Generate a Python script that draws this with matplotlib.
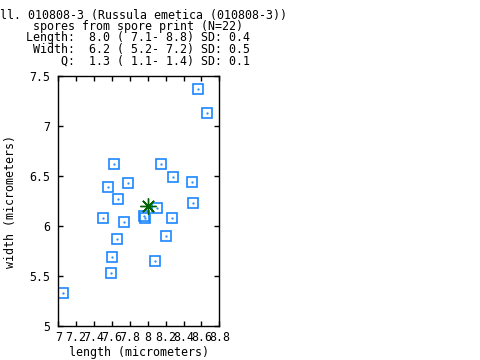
import numpy as np
import matplotlib
matplotlib.use('Agg')
import matplotlib.pyplot as plt

length = [8.565, 8.666, 7.626, 8.152, 8.286, 8.498, 7.783, 7.559, 7.671, 8.509, 8.107,
          7.961, 7.973, 7.503, 8.275, 7.738, 8.207, 7.660, 7.604, 8.085, 7.593, 7.056]
width = [7.37, 7.13, 6.62, 6.62, 6.49, 6.44, 6.43, 6.39, 6.27, 6.23, 6.18,
         6.10, 6.08, 6.08, 6.08, 6.04, 5.90, 5.87, 5.69, 5.65, 5.53, 5.33]
mean_length = [8.0]
mean_width = [6.2]

header = [
    'Coll. 010808-3 (Russula emetica (010808-3))',
    'spores from spore print (N=22)',
    'Length:  8.0 ( 7.1- 8.8) SD: 0.4',
    'Width:  6.2 ( 5.2- 7.2) SD: 0.5',
    'Q:  1.3 ( 1.1- 1.4) SD: 0.1',
]
header_x = [-14, 33, 26, 33, 61]

x_ticks = [7, 7.2, 7.4, 7.6, 7.8, 8, 8.2, 8.4, 8.6, 8.8]
y_ticks = [5, 5.5, 6, 6.5, 7, 7.5]

plt.rcParams['font.family'] = 'DejaVu Sans Mono'
plt.rcParams['font.size'] = 8.4

W, H = 480, 360
fig = plt.figure(figsize=(W / 100, H / 100), dpi=100)
ax = fig.add_axes([58.3 / W, 1 - 326.3 / H, 161 / W, 250.3 / H])

blue = '#1a86ff'
ax.plot(length, width, linestyle='none', marker='s', markersize=7.8,
        markerfacecolor='none', markeredgecolor=blue, markeredgewidth=1.2)
ax.plot(length, width, linestyle='none', marker='.', markersize=1.2, color=blue)

green = '#006400'
ax.plot(mean_length, mean_width, linestyle='none', marker=(8, 2, 0), markersize=11.5,
        markeredgecolor=green, markeredgewidth=1.0)
ax.plot(mean_length, mean_width, linestyle='none', marker='o', markersize=2.8, color=green)

ax.set_xlim(7, 8.8)
ax.set_ylim(5, 7.5)
ax.set_xticks(x_ticks)
ax.set_xticklabels(['%g' % t for t in x_ticks])
ax.set_yticks(y_ticks)
ax.set_yticklabels(['%g' % t for t in y_ticks])
ax.tick_params(direction='in', length=3.8, width=1, top=True, right=True, pad=5.5)
ax.tick_params(axis='x', pad=3.5)
for s in ax.spines.values():
    s.set_linewidth(1)

ax.set_xlabel('length (micrometers)', labelpad=1.5)
ax.set_ylabel('width (micrometers)', labelpad=9)

ys = [15, 26.4, 37.8, 49.2, 60.6]
for txt, x, y in zip(header, header_x, ys):
    fig.text(x / W, 1 - y / H, txt, ha='left', va='center')

fig.savefig('out.png', dpi=100)
